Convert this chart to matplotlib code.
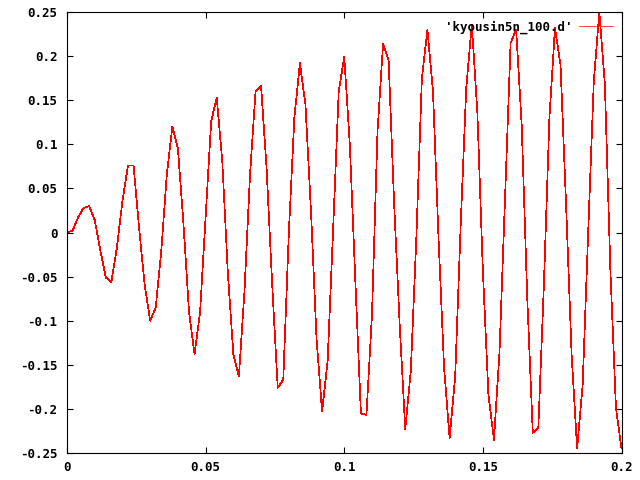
import numpy as np
import matplotlib
matplotlib.use("Agg")
import matplotlib.pyplot as plt

# =============================================================================
# Data (dt = 0.002)
# =============================================================================

t = np.arange(101) * 0.002

y = [0.000, 0.002, 0.017, 0.028, 0.030, 0.014, -0.020, -0.051, -0.056, -0.017,
     0.036, 0.076, 0.076, 0.005, -0.059, -0.100, -0.085, -0.021, 0.066, 0.120,
     0.095, 0.010, -0.090, -0.138, -0.090, 0.018, 0.126, 0.153, 0.081, -0.045,
     -0.138, -0.163, -0.067, 0.065, 0.160, 0.166, 0.072, -0.059, -0.176, -0.167,
     -0.001, 0.130, 0.192, 0.145, 0.024, -0.120, -0.203, -0.146, 0.005, 0.160,
     0.199, 0.100, -0.055, -0.205, -0.207, -0.093, 0.115, 0.214, 0.195, 0.032,
     -0.105, -0.223, -0.157, -0.006, 0.175, 0.230, 0.160, -0.006, -0.153, -0.233,
     -0.164, 0.009, 0.164, 0.236, 0.137, -0.044, -0.184, -0.235, -0.135, 0.040,
     0.215, 0.230, 0.122, -0.074, -0.227, -0.221, -0.060, 0.130, 0.232, 0.190,
     0.032, -0.138, -0.245, -0.172, 0.002, 0.171, 0.250, 0.168, -0.044, -0.199,
     -0.245]

xticks = [0, 0.05, 0.1, 0.15, 0.2]
xlabels = ["0", "0.05", "0.1", "0.15", "0.2"]
yticks = [0.25, 0.2, 0.15, 0.1, 0.05, 0, -0.05, -0.1, -0.15, -0.2, -0.25]
ylabels = ["0.25", "0.2", "0.15", "0.1", "0.05", "0", "-0.05", "-0.1",
           "-0.15", "-0.2", "-0.25"]

label = "'kyousin5n_100.d'"

# =============================================================================
# Plot
# =============================================================================

plt.rcParams['font.family'] = ['DejaVu Sans Mono']
plt.rcParams['font.weight'] = 'bold'

fig = plt.figure(figsize=(6.4, 4.8), dpi=100)
ax = fig.add_axes([67/640, 1 - 453/480, (621.5 - 67)/640, (453 - 12)/480])

ax.plot(t, y, color='red', lw=0.5, antialiased=False, label=label)

ax.set_xlim(0, 0.2)
ax.set_ylim(-0.25, 0.25)
ax.set_xticks(xticks)
ax.set_xticklabels(xlabels)
ax.set_yticks(yticks)
ax.set_yticklabels(ylabels)

ax.tick_params(direction='in', length=4, width=0.8, top=True, right=True,
               labelsize=9)
ax.tick_params(axis='y', pad=7)
ax.tick_params(axis='x', pad=6)
for s in ax.spines.values():
    s.set_linewidth(0.8)

ax.legend(loc='upper right', frameon=False, markerfirst=False,
          fontsize=9, handlelength=2.7, handletextpad=0.5,
          borderaxespad=0.3)

fig.savefig("out.png", dpi=100)
